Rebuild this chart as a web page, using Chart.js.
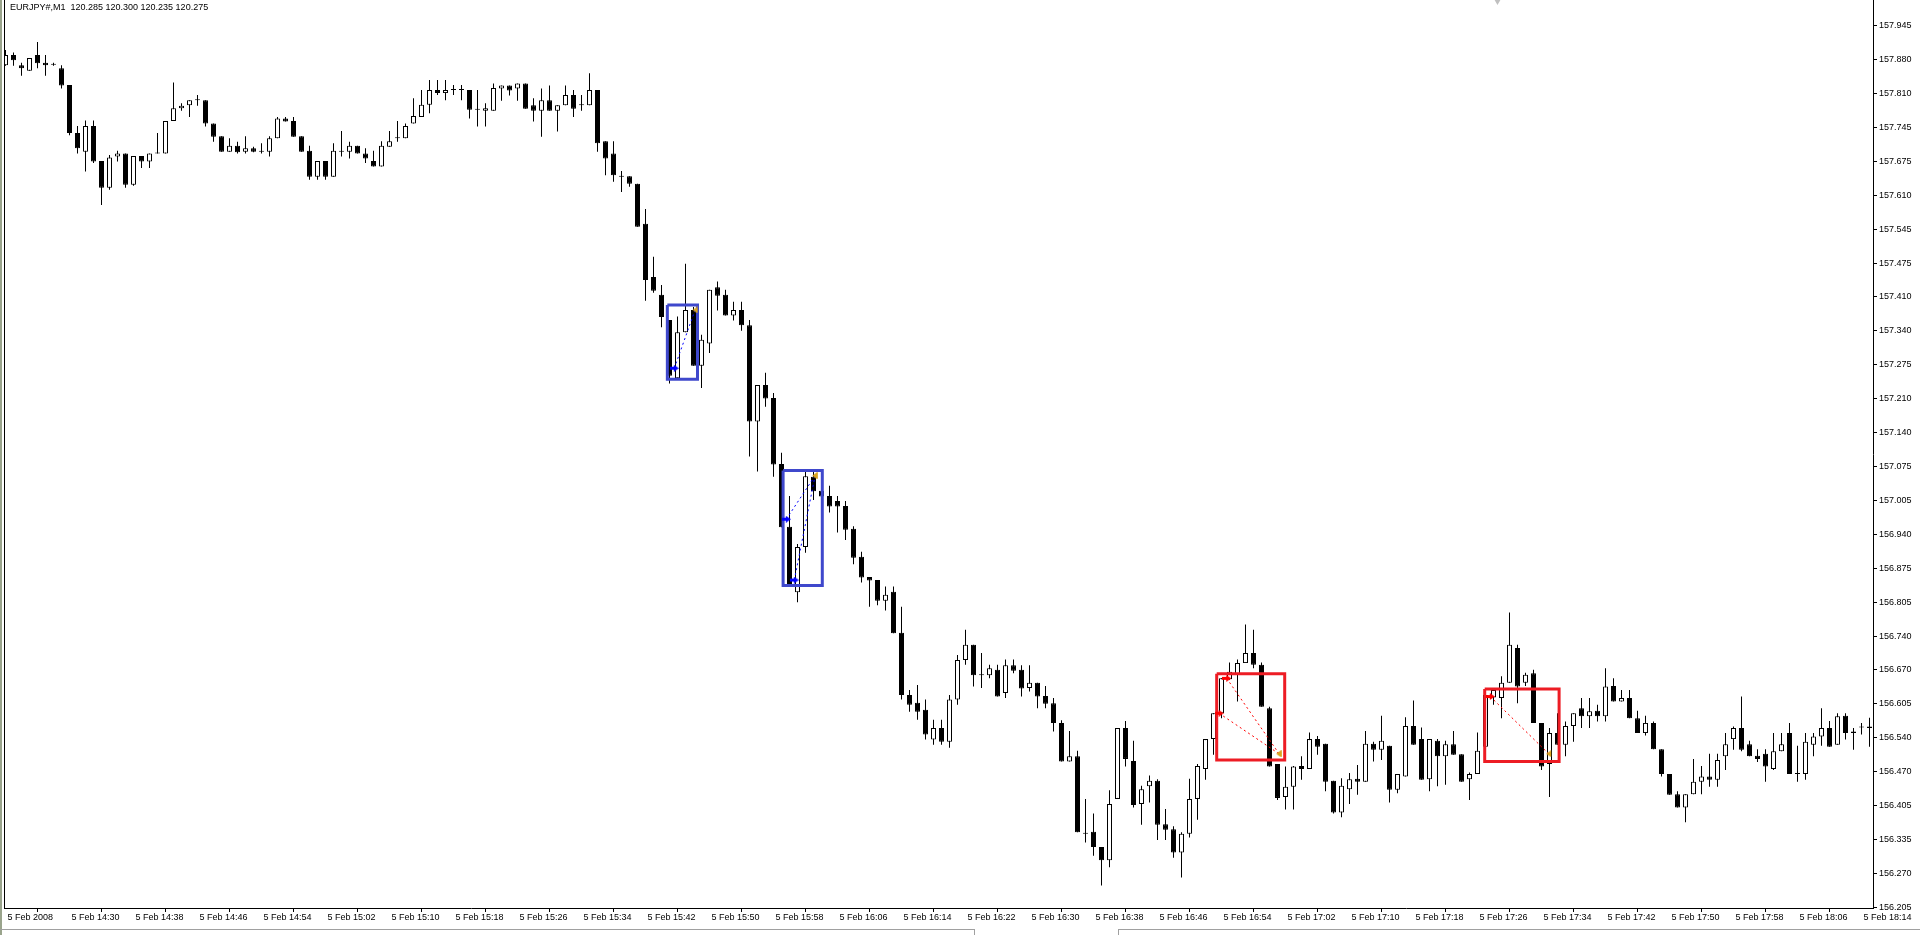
<!DOCTYPE html>
<html>
<head>
<meta charset="utf-8">
<title>EURJPY#, M1</title>
<script src="https://cdn.jsdelivr.net/npm/chart.js@4.4.1/dist/chart.umd.min.js"></script>
<style>
  html, body { margin: 0; padding: 0; background: #fff; overflow: hidden; }
  #js-chart-wrap { position: relative; width: 1920px; height: 935px; }
</style>
</head>
<body>
<div id="js-chart-wrap"><canvas id="js-chart-eurjpy" width="1920" height="935"></canvas></div>
<script>
// Header text and axis labels
const headerText = 'EURJPY#,M1  120.285 120.300 120.235 120.275';

const timeLabels = [
  '5 Feb 2008', '5 Feb 14:30', '5 Feb 14:38', '5 Feb 14:46', '5 Feb 14:54', '5 Feb 15:02',
  '5 Feb 15:10', '5 Feb 15:18', '5 Feb 15:26', '5 Feb 15:34', '5 Feb 15:42', '5 Feb 15:50',
  '5 Feb 15:58', '5 Feb 16:06', '5 Feb 16:14', '5 Feb 16:22', '5 Feb 16:30', '5 Feb 16:38',
  '5 Feb 16:46', '5 Feb 16:54', '5 Feb 17:02', '5 Feb 17:10', '5 Feb 17:18', '5 Feb 17:26',
  '5 Feb 17:34', '5 Feb 17:42', '5 Feb 17:50', '5 Feb 17:58', '5 Feb 18:06', '5 Feb 18:14'
];
const barsPerTimeLabel = 8;

const priceLabels = [
  '157.945', '157.880', '157.810', '157.745', '157.675', '157.610', '157.545', '157.475',
  '157.410', '157.340', '157.275', '157.210', '157.140', '157.075', '157.005', '156.940',
  '156.875', '156.805', '156.740', '156.670', '156.605', '156.540', '156.470', '156.405',
  '156.335', '156.270', '156.205'
];

// One-minute candles, 14:22 .. 18:15
const opens = [
  157.867, 157.887, 157.867, 157.856, 157.887, 157.872, 157.868, 157.861, 157.828, 157.733,
  157.696, 157.747, 157.678, 157.625, 157.687, 157.693, 157.631, 157.688, 157.677, 157.693,
  157.693, 157.757, 157.782, 157.788, 157.798, 157.798, 157.752, 157.727, 157.696, 157.708,
  157.696, 157.703, 157.696, 157.696, 157.723, 157.762, 157.757, 157.727, 157.698, 157.647,
  157.678, 157.647, 157.696, 157.696, 157.708, 157.693, 157.678, 157.667, 157.706, 157.723,
  157.723, 157.752, 157.765, 157.789, 157.818, 157.812, 157.818, 157.818, 157.818, 157.779,
  157.777, 157.777, 157.821, 157.827, 157.821, 157.831, 157.788, 157.777, 157.798, 157.777,
  157.788, 157.808, 157.788, 157.788, 157.818, 157.717, 157.693, 157.647, 157.648, 157.633,
  157.554, 157.449, 157.414, 157.364, 157.249, 157.340, 157.384, 157.274, 157.318, 157.429,
  157.414, 157.373, 157.384, 157.354, 157.164, 157.236, 157.210, 157.080, 156.956, 156.827,
  156.916, 157.055, 157.027, 157.017, 157.007, 156.997, 156.952, 156.897, 156.857, 156.851,
  156.810, 156.828, 156.747, 156.624, 156.609, 156.595, 156.536, 156.559, 156.532, 156.615,
  156.693, 156.723, 156.663, 156.663, 156.674, 156.628, 156.683, 156.674, 156.638, 156.648,
  156.622, 156.608, 156.569, 156.493, 156.503, 156.350, 156.354, 156.324, 156.298, 156.419,
  156.559, 156.494, 156.409, 156.444, 156.455, 156.369, 156.359, 156.313, 156.350, 156.419,
  156.478, 156.537, 156.588, 156.655, 156.664, 156.687, 156.707, 156.684, 156.598, 156.488,
  156.423, 156.443, 156.484, 156.478, 156.537, 156.528, 156.455, 156.392, 156.438, 156.459,
  156.453, 156.528, 156.516, 156.524, 156.437, 156.463, 156.563, 156.537, 156.458, 156.534,
  156.503, 156.527, 156.507, 156.458, 156.468, 156.522, 156.619, 156.618, 156.648, 156.717,
  156.648, 156.667, 156.569, 156.488, 156.549, 156.526, 156.563, 156.598, 156.582, 156.593,
  156.582, 156.642, 156.611, 156.618, 156.578, 156.549, 156.569, 156.517, 156.468, 156.428,
  156.402, 156.428, 156.453, 156.463, 156.457, 156.503, 156.537, 156.559, 156.527, 156.504,
  156.508, 156.478, 156.513, 156.549, 156.468, 156.468, 156.526, 156.542, 156.559, 156.526,
  156.583, 156.549, 156.560, 156.559
];
const highs = [
  157.897, 157.892, 157.872, 157.881, 157.913, 157.887, 157.872, 157.867, 157.828, 157.747,
  157.758, 157.758, 157.678, 157.690, 157.698, 157.693, 157.688, 157.688, 157.693, 157.733,
  157.757, 157.833, 157.792, 157.798, 157.808, 157.798, 157.752, 157.727, 157.723, 157.716,
  157.727, 157.706, 157.713, 157.727, 157.765, 157.765, 157.765, 157.727, 157.708, 157.678,
  157.678, 157.713, 157.737, 157.716, 157.708, 157.703, 157.698, 157.717, 157.737, 157.757,
  157.752, 157.802, 157.818, 157.838, 157.838, 157.838, 157.828, 157.828, 157.818, 157.818,
  157.792, 157.831, 157.827, 157.827, 157.831, 157.831, 157.802, 157.821, 157.827, 157.788,
  157.827, 157.818, 157.808, 157.851, 157.818, 157.717, 157.717, 157.658, 157.648, 157.633,
  157.583, 157.489, 157.433, 157.364, 157.371, 157.475, 157.390, 157.335, 157.424, 157.440,
  157.424, 157.400, 157.400, 157.364, 157.236, 157.260, 157.220, 157.102, 157.017, 156.922,
  157.067, 157.067, 157.027, 157.037, 157.017, 157.007, 156.957, 156.907, 156.857, 156.851,
  156.838, 156.838, 156.798, 156.634, 156.644, 156.615, 156.575, 156.575, 156.624, 156.703,
  156.753, 156.723, 156.707, 156.684, 156.684, 156.694, 156.694, 156.683, 156.683, 156.648,
  156.642, 156.618, 156.574, 156.553, 156.514, 156.419, 156.390, 156.324, 156.436, 156.559,
  156.573, 156.534, 156.445, 156.465, 156.458, 156.399, 156.365, 156.353, 156.459, 156.488,
  156.537, 156.588, 156.657, 156.688, 156.694, 156.763, 156.753, 156.688, 156.601, 156.488,
  156.483, 156.484, 156.503, 156.550, 156.543, 156.528, 156.455, 156.460, 156.470, 156.486,
  156.553, 156.532, 156.583, 156.524, 156.468, 156.580, 156.613, 156.560, 156.537, 156.537,
  156.534, 156.553, 156.507, 156.471, 156.550, 156.624, 156.634, 156.661, 156.787, 156.723,
  156.668, 156.674, 156.569, 156.559, 156.588, 156.572, 156.588, 156.618, 156.618, 156.605,
  156.677, 156.657, 156.634, 156.634, 156.593, 156.583, 156.572, 156.517, 156.468, 156.434,
  156.428, 156.498, 156.484, 156.508, 156.508, 156.549, 156.562, 156.621, 156.534, 156.517,
  156.517, 156.549, 156.549, 156.569, 156.524, 156.549, 156.549, 156.598, 156.573, 156.588,
  156.588, 156.559, 156.569, 156.579
];
const lows = [
  157.866, 157.866, 157.846, 157.856, 157.861, 157.846, 157.866, 157.821, 157.729, 157.693,
  157.657, 157.674, 157.591, 157.621, 157.677, 157.625, 157.629, 157.664, 157.664, 157.693,
  157.693, 157.757, 157.777, 157.765, 157.787, 157.746, 157.716, 157.696, 157.696, 157.693,
  157.693, 157.695, 157.693, 157.687, 157.723, 157.756, 157.726, 157.696, 157.641, 157.641,
  157.641, 157.647, 157.687, 157.683, 157.693, 157.674, 157.667, 157.667, 157.706, 157.716,
  157.723, 157.752, 157.765, 157.772, 157.808, 157.798, 157.808, 157.798, 157.762, 157.746,
  157.746, 157.777, 157.797, 157.807, 157.797, 157.781, 157.756, 157.726, 157.777, 157.736,
  157.788, 157.765, 157.777, 157.788, 157.696, 157.650, 157.637, 157.617, 157.627, 157.548,
  157.402, 157.418, 157.350, 157.239, 157.249, 157.340, 157.274, 157.230, 157.299, 157.383,
  157.373, 157.363, 157.343, 157.095, 157.065, 157.193, 157.055, 156.955, 156.841, 156.807,
  156.905, 157.009, 157.016, 156.984, 156.945, 156.930, 156.882, 156.846, 156.798, 156.801,
  156.791, 156.746, 156.615, 156.591, 156.575, 156.536, 156.526, 156.526, 156.520, 156.605,
  156.684, 156.641, 156.638, 156.657, 156.621, 156.618, 156.667, 156.621, 156.631, 156.598,
  156.598, 156.552, 156.493, 156.493, 156.353, 156.333, 156.307, 156.248, 156.284, 156.419,
  156.483, 156.402, 156.368, 156.412, 156.338, 156.338, 156.303, 156.264, 156.343, 156.378,
  156.457, 156.506, 156.578, 156.654, 156.611, 156.687, 156.677, 156.601, 156.483, 156.417,
  156.398, 156.398, 156.457, 156.478, 156.506, 156.434, 156.390, 156.383, 156.409, 156.427,
  156.453, 156.493, 156.496, 156.412, 156.430, 156.463, 156.526, 156.457, 156.434, 156.444,
  156.447, 156.506, 156.453, 156.417, 156.468, 156.520, 156.605, 156.578, 156.648, 156.608,
  156.642, 156.569, 156.476, 156.423, 156.526, 156.503, 156.532, 156.559, 156.559, 156.572,
  156.572, 156.611, 156.611, 156.578, 156.549, 156.544, 156.517, 156.463, 156.427, 156.402,
  156.373, 156.428, 156.428, 156.443, 156.443, 156.476, 156.516, 156.513, 156.503, 156.492,
  156.453, 156.476, 156.513, 156.468, 156.453, 156.457, 156.503, 156.524, 156.522, 156.526,
  156.536, 156.516, 156.546, 156.522
];
const closes = [
  157.887, 157.877, 157.861, 157.881, 157.871, 157.867, 157.868, 157.827, 157.733, 157.703,
  157.747, 157.677, 157.625, 157.685, 157.693, 157.631, 157.688, 157.677, 157.693, 157.693,
  157.757, 157.782, 157.787, 157.798, 157.798, 157.752, 157.726, 157.696, 157.708, 157.695,
  157.703, 157.696, 157.696, 157.723, 157.762, 157.756, 157.726, 157.696, 157.647, 157.678,
  157.647, 157.698, 157.696, 157.708, 157.693, 157.683, 157.667, 157.708, 157.717, 157.723,
  157.747, 157.767, 157.789, 157.818, 157.812, 157.818, 157.818, 157.818, 157.779, 157.779,
  157.782, 157.822, 157.827, 157.817, 157.831, 157.781, 157.777, 157.798, 157.777, 157.788,
  157.808, 157.781, 157.788, 157.818, 157.713, 157.683, 157.650, 157.647, 157.633, 157.548,
  157.443, 157.422, 157.370, 157.254, 157.340, 157.384, 157.274, 157.325, 157.424, 157.412,
  157.373, 157.384, 157.354, 157.164, 157.236, 157.209, 157.079, 156.955, 156.841, 156.916,
  157.056, 157.026, 157.016, 156.996, 156.996, 156.950, 156.895, 156.856, 156.850, 156.810,
  156.822, 156.746, 156.624, 156.605, 156.591, 156.546, 156.559, 156.532, 156.615, 156.693,
  156.723, 156.663, 156.663, 156.677, 156.621, 156.683, 156.672, 156.637, 156.648, 156.621,
  156.607, 156.569, 156.493, 156.503, 156.353, 156.350, 156.324, 156.298, 156.409, 156.559,
  156.498, 156.407, 156.438, 156.455, 156.368, 156.358, 156.313, 156.350, 156.419, 156.484,
  156.537, 156.588, 156.657, 156.670, 156.687, 156.707, 156.684, 156.601, 156.483, 156.421,
  156.443, 156.483, 156.478, 156.537, 156.522, 156.453, 156.392, 156.445, 156.458, 156.453,
  156.528, 156.516, 156.534, 156.437, 156.468, 156.563, 156.526, 156.457, 156.537, 156.503,
  156.527, 156.506, 156.453, 156.468, 156.514, 156.624, 156.634, 156.648, 156.723, 156.641,
  156.664, 156.569, 156.483, 156.549, 156.526, 156.563, 156.588, 156.582, 156.592, 156.582,
  156.641, 156.611, 156.618, 156.578, 156.549, 156.569, 156.517, 156.468, 156.427, 156.402,
  156.428, 156.453, 156.463, 156.457, 156.496, 156.527, 156.559, 156.516, 156.503, 156.498,
  156.483, 156.513, 156.527, 156.468, 156.468, 156.532, 156.542, 156.559, 156.522, 156.582,
  156.549, 156.552, 156.560, 156.562
];

// Hand-drawn rectangles (bar index / price)
const boxLeft   = [82.73, 97.2, 151.4, 184.9];
const boxRight  = [86.5, 102.1, 159.9, 194.2];
const boxTop    = [157.394, 157.067, 156.666, 156.636];
const boxBottom = [157.247, 156.840, 156.496, 156.493];
const boxColors = ['#3f48cc', '#3f48cc', '#ed1c24', '#ed1c24'];

// Trades: entry -> exit (bar index / price)
const tradeEntryX = [83.6, 97.6, 98.6, 151.7, 152.65, 185.6];
const tradeEntryY = [157.269, 156.971, 156.851, 156.588, 156.657, 156.621];
const tradeExitX  = [86.2, 101.2, 101.2, 159.2, 159.2, 192.9];
const tradeExitY  = [157.384, 157.057, 157.057, 156.508, 156.508, 156.508];
const tradeColors = ['#0000ff', '#0000ff', '#0000ff', '#ff0000', '#ff0000', '#ff0000'];

// Chart shift marker
const shiftMarkerX = 186.5;

// Scale range
const priceMax = 157.9957;
const priceMin = 156.2037;
const indexMin = -0.1875;
const indexMax = 233.4375;

// Small arrow icons used as point styles
function makeArrow(color, toRight) {
  let c = document.createElement('canvas');
  c.width = 9;
  c.height = 7;
  let g = c.getContext('2d');
  g.fillStyle = color;
  if (toRight) {
    g.fillRect(0, 2, 5, 3);
    g.beginPath();
    g.moveTo(4, 0); g.lineTo(9, 3.5); g.lineTo(4, 7);
    g.closePath();
    g.fill();
  } else {
    g.beginPath();
    g.moveTo(7, 0); g.lineTo(2, 3.5); g.lineTo(7, 7);
    g.closePath();
    g.fill();
  }
  return c;
}

// Datasets
let bodyData = opens.map((o, i) => ({x: i, y: [o, closes[i]]}));
let bodyColors = opens.map((o, i) => closes[i] >= o ? '#ffffff' : '#000000');
let wickData = lows.map((l, i) => ({x: i, y: [l, highs[i]]}));

let datasets = [
  {
    type: 'bar', label: 'wicks', data: wickData,
    backgroundColor: '#000000', borderWidth: 0,
    barThickness: 1, grouped: false, inflateAmount: 0, order: 4
  },
  {
    type: 'bar', label: 'bodies', data: bodyData,
    backgroundColor: bodyColors, borderColor: '#000000', borderWidth: 1,
    borderSkipped: false, barThickness: 5, minBarLength: 1,
    grouped: false, inflateAmount: 0, order: 3
  }
];

boxLeft.forEach((l, k) => {
  datasets.push({
    type: 'line', label: 'box' + k,
    data: [
      {x: l, y: boxTop[k]}, {x: boxRight[k], y: boxTop[k]},
      {x: boxRight[k], y: boxBottom[k]}, {x: l, y: boxBottom[k]}, {x: l, y: boxTop[k]}
    ],
    borderColor: boxColors[k], borderWidth: 3, borderJoinStyle: 'miter',
    pointRadius: 0, tension: 0, fill: false, order: 2
  });
});

tradeEntryX.forEach((x, k) => {
  datasets.push({
    type: 'line', label: 'trade' + k,
    data: [{x: x, y: tradeEntryY[k]}, {x: tradeExitX[k], y: tradeExitY[k]}],
    borderColor: tradeColors[k], borderWidth: 1, borderDash: [2, 3],
    pointRadius: 0, tension: 0, fill: false, order: 1
  });
});

datasets.push({
  type: 'line', label: 'entries', showLine: false,
  data: tradeEntryX.map((x, k) => ({x: x, y: tradeEntryY[k]})),
  pointStyle: tradeColors.map(c => makeArrow(c, true)),
  pointRadius: 4, order: 0
});

datasets.push({
  type: 'line', label: 'exits', showLine: false,
  data: tradeExitX.map((x, k) => ({x: x, y: tradeExitY[k]})),
  pointStyle: makeArrow('#daa520', false),
  pointRadius: 4, order: 0
});

datasets.push({
  type: 'line', label: 'shift', showLine: false, clip: false,
  data: [{x: shiftMarkerX, y: priceMax}],
  pointStyle: 'triangle', pointRotation: 180, pointRadius: 5,
  pointBackgroundColor: '#c0c0c0', pointBorderWidth: 0, order: 0
});

// Frame, header text, bottom tab strip
const mt4Frame = {
  id: 'mt4Frame',
  beforeDraw(chart) {
    const ctx = chart.ctx;
    ctx.save();
    ctx.fillStyle = '#ffffff';
    ctx.fillRect(0, 0, chart.width, chart.height);
    ctx.restore();
  },
  afterDraw(chart) {
    const ctx = chart.ctx;
    const area = chart.chartArea;
    ctx.save();
    ctx.fillStyle = '#9aa48c';
    ctx.fillRect(0, 0, 2, chart.height);
    ctx.fillStyle = '#000000';
    ctx.fillRect(area.left, 0, 1, area.bottom);
    // tab strip under the time scale
    ctx.fillStyle = '#a0a0a0';
    ctx.fillRect(0, 929, 974, 1);
    ctx.fillRect(1118, 929, chart.width - 1118, 1);
    ctx.fillRect(974, 929, 1, 6);
    ctx.fillRect(1118, 929, 1, 6);
    ctx.fillStyle = '#000000';
    ctx.font = '9px "Liberation Sans"';
    ctx.textBaseline = 'top';
    ctx.fillText(headerText, 10, 3);
    ctx.restore();
  }
};

let chartCon = document.getElementById('js-chart-eurjpy');

let chart = new Chart(chartCon, {
  type: 'bar',
  data: {datasets: datasets},
  options: {
    responsive: false,
    animation: false,
    devicePixelRatio: 1,
    layout: {autoPadding: false, padding: {left: 4, top: 0, right: 0, bottom: 0}},
    plugins: {legend: {display: false}, tooltip: {enabled: false}},
    scales: {
      x: {
        type: 'linear', position: 'bottom', offset: false,
        min: indexMin, max: indexMax,
        border: {display: true, color: '#000000', width: 1},
        grid: {display: true, drawOnChartArea: false, drawTicks: true, tickLength: 4, color: '#000000'},
        afterBuildTicks: scale => {
          scale.ticks = timeLabels.map((t, k) => ({value: k * barsPerTimeLabel}));
        },
        afterFit: scale => {
          scale.height = 27;
          scale.paddingLeft = 0;
          scale.paddingRight = 0;
        },
        ticks: {
          autoSkip: false, maxRotation: 0, align: 'start', labelOffset: 2, padding: 0,
          color: '#000000', font: {family: 'Liberation Sans', size: 9},
          callback: (v, idx) => timeLabels[idx]
        }
      },
      y: {
        type: 'linear', position: 'right',
        min: priceMin, max: priceMax,
        border: {display: true, color: '#000000', width: 1},
        grid: {display: true, drawOnChartArea: false, drawTicks: true, tickLength: 4, color: '#000000'},
        afterBuildTicks: scale => {
          let first = parseFloat(priceLabels[0]);
          let last = parseFloat(priceLabels[priceLabels.length - 1]);
          let step = (first - last) / (priceLabels.length - 1);
          scale.ticks = priceLabels.map((t, k) => ({value: first - k * step}));
        },
        afterFit: scale => {
          scale.width = 47;
          scale.paddingTop = 0;
          scale.paddingBottom = 0;
        },
        ticks: {
          padding: 2, color: '#000000', font: {family: 'Liberation Sans', size: 9},
          callback: (v, idx) => priceLabels[idx]
        }
      }
    }
  },
  plugins: [mt4Frame]
});
</script>
</body>
</html>
